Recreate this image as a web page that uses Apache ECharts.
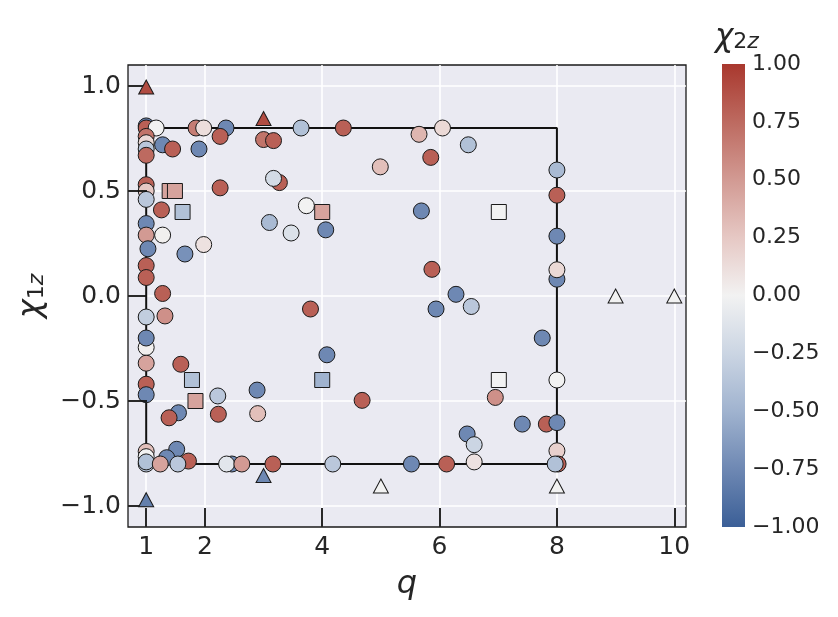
<!DOCTYPE html>
<html>
<head>
<meta charset="utf-8">
<script src="https://cdn.jsdelivr.net/npm/echarts@6.0.0/dist/echarts.min.js"></script>
<style>
  html, body { margin: 0; padding: 0; background: #fff; }
  #chart { width: 838px; height: 617px; }
</style>
</head>
<body>
<div id="chart"></div>
<script>
/* 刻度 */
var qTicks = [1, 2, 4, 6, 8, 10];
var chi1Ticks = [-1, -0.5, 0, 0.5, 1];
var chi2Ticks = [-1, -0.75, -0.5, -0.25, 0, 0.25, 0.5, 0.75, 1];

/* 方框 (q, chi1z) */
var boxQ = [1, 8, 8, 1, 1];
var boxChi1 = [-0.8, -0.8, 0.8, 0.8, -0.8];

/* 点: [q, chi1z, chi2z] */
var circles = [
  [1.0, 0.81, -0.8], [1.0, 0.80, 0.8], [1.17, 0.80, 0.0], [1.0, 0.76, 0.7],
  [1.0, 0.73, 0.15], [1.0, 0.70, -0.35], [1.0, 0.67, 0.75],
  [1.85, 0.80, 0.65], [1.98, 0.80, 0.12], [2.36, 0.80, -0.75], [2.26, 0.76, 0.8],
  [3.0, 0.745, 0.7], [3.17, 0.74, 0.8], [3.64, 0.80, -0.4], [4.36, 0.80, 0.8],
  [1.28, 0.72, -0.75], [1.45, 0.70, 0.8], [1.9, 0.70, -0.75],
  [5.65, 0.77, 0.35], [6.05, 0.80, 0.15], [6.49, 0.72, -0.4], [5.85, 0.66, 0.8],
  [4.99, 0.615, 0.3],
  [8.0, 0.60, -0.45], [8.0, 0.48, 0.8], [8.0, 0.285, -0.75], [8.0, 0.08, -0.75], [8.0, 0.125, 0.15],
  [1.0, 0.53, 0.8], [1.0, 0.50, 0.25], [1.0, 0.46, -0.35],
  [2.26, 0.515, 0.8], [3.27, 0.54, 0.8], [3.17, 0.56, -0.2],
  [1.26, 0.41, 0.8], [3.73, 0.43, 0.0], [4.06, 0.315, -0.75], [3.1, 0.35, -0.45], [3.47, 0.30, -0.15],
  [1.0, 0.345, -0.75], [1.0, 0.29, 0.5], [1.03, 0.225, -0.75],
  [1.28, 0.29, 0.02], [1.66, 0.20, -0.7], [1.98, 0.245, 0.1],
  [1.0, 0.145, 0.8], [1.0, 0.088, 0.8], [1.28, 0.012, 0.8], [1.32, -0.095, 0.55],
  [3.8, -0.062, 0.8],
  [5.69, 0.405, -0.75], [5.87, 0.127, 0.8], [6.28, 0.008, -0.75], [6.54, -0.05, -0.35], [5.94, -0.062, -0.75],
  [1.0, -0.10, -0.3], [1.0, -0.245, 0.02], [1.0, -0.20, -0.75], [1.0, -0.32, 0.45],
  [1.0, -0.42, 0.8], [1.0, -0.47, -0.75],
  [1.59, -0.325, 0.8], [2.22, -0.476, -0.35], [2.89, -0.448, -0.75],
  [2.23, -0.563, 0.8], [2.90, -0.56, 0.3], [1.55, -0.556, -0.75], [1.39, -0.58, 0.8],
  [4.08, -0.28, -0.75], [4.68, -0.497, 0.8],
  [1.0, -0.74, 0.3], [1.0, -0.765, 0.0], [1.0, -0.80, -0.35], [1.0, -0.79, -0.4],
  [1.52, -0.73, -0.75], [1.35, -0.77, -0.75], [1.72, -0.786, 0.8], [1.24, -0.80, 0.45], [1.54, -0.80, -0.35],
  [2.46, -0.80, -0.75], [2.37, -0.80, -0.1], [2.63, -0.80, 0.5], [3.16, -0.80, 0.8],
  [4.18, -0.80, -0.35], [5.52, -0.80, -0.75], [6.12, -0.80, 0.8], [6.59, -0.79, 0.1],
  [6.47, -0.657, -0.75], [6.59, -0.708, -0.25],
  [7.75, -0.20, -0.75], [8.0, -0.40, 0.0], [6.95, -0.483, 0.55],
  [7.41, -0.61, -0.75], [7.82, -0.61, 0.8], [8.0, -0.603, -0.75], [8.0, -0.737, 0.2],
  [8.02, -0.80, 0.8], [7.97, -0.80, -0.4]
];
var squares = [
  [1.40, 0.5, 0.45], [1.49, 0.5, 0.45], [1.62, 0.40, -0.4], [4.0, 0.40, 0.45], [7.01, 0.40, 0.0],
  [1.78, -0.40, -0.4], [1.84, -0.50, 0.45], [4.0, -0.40, -0.5], [7.01, -0.40, 0.0]
];
var triangles = [
  [1.0, 0.995, 0.9], [3.0, 0.845, 0.9], [1.0, -0.97, -0.8], [3.0, -0.855, -0.75],
  [5.0, -0.905, 0.0], [8.0, -0.905, 0.0], [9.0, 0.0, 0.0], [10.0, 0.0, 0.0]
];

/* 颜色 -1 -> 1 */
var cmapColors = ['#3b5f97', '#6e88b3', '#a0b3cf', '#cbd5e3', '#f2f2f2', '#e6c8c4', '#d29a93', '#bd6a60', '#a9382e'];

var FONT = 'DejaVu Sans';
var TXT = '#262626';

function fmt(v, d) {
  var s = Math.abs(v).toFixed(d);
  return v < 0 ? '\u2212' + s : s;
}

var boxData = boxQ.map(function (q, i) { return [q, boxChi1[i]]; });

var gradStops = cmapColors.map(function (c, i) {
  return { offset: 1 - i / (cmapColors.length - 1), color: c };
});

var myEchart = echarts.init(document.getElementById('chart'));

var markerStyle = { borderColor: '#1a1a1a', borderWidth: 1, opacity: 1 };
var tickStyle = { color: '#111', width: 1.8 };
var gridLine = { show: true, lineStyle: { color: '#ffffff', width: 1.6 } };

var option = {
  animation: false,
  title: {
    text: '{c|χ}{n|2}{s|z}',
    left: 710,
    top: 10,
    textStyle: {
      fontWeight: 'normal',
      rich: {
        c: { fontFamily: FONT, fontSize: 31, fontStyle: 'italic', fontWeight: 'normal', color: TXT, lineHeight: 38, verticalAlign: 'bottom' },
        n: { fontFamily: FONT, fontSize: 22, fontWeight: 'normal', color: TXT, lineHeight: 30, verticalAlign: 'bottom' },
        s: { fontFamily: FONT, fontSize: 22, fontStyle: 'italic', fontWeight: 'normal', color: TXT, lineHeight: 30, verticalAlign: 'bottom' }
      }
    }
  },
  grid: [
    { left: 128, top: 65, width: 558, height: 462, show: true, backgroundColor: '#eaeaf2',
      borderColor: '#1a1a1a', borderWidth: 1.3, outerBoundsMode: 'none' },
    { left: 722, top: 64, width: 23, height: 463, show: false, outerBoundsMode: 'none' }
  ],
  visualMap: {
    type: 'continuous',
    show: false,
    min: -1,
    max: 1,
    dimension: 2,
    seriesIndex: [1, 2, 3],
    inRange: { color: cmapColors }
  },
  xAxis: [
    {
      gridIndex: 0, type: 'value', min: 0.69, max: 10.2, z: 5,
      name: 'q', nameLocation: 'middle', nameGap: 42,
      nameTextStyle: { fontFamily: FONT, fontSize: 32, fontStyle: 'italic', color: TXT },
      axisLine: { show: false, onZero: false },
      axisTick: { show: true, inside: true, length: 19, customValues: qTicks, lineStyle: tickStyle },
      axisLabel: { customValues: qTicks, fontFamily: FONT, fontSize: 25, color: TXT, margin: 8 },
      splitLine: { show: false }
    },
    { gridIndex: 1, type: 'value', min: 0, max: 1, show: false },
    /* 只画网格线 */
    {
      gridIndex: 0, type: 'value', min: 0.69, max: 10.2, z: 0,
      axisLine: { show: false, onZero: false },
      axisTick: { show: false, customValues: qTicks },
      axisLabel: { show: false, customValues: qTicks },
      splitLine: gridLine
    }
  ],
  yAxis: [
    {
      gridIndex: 0, type: 'value', min: -1.1, max: 1.1, z: 5,
      name: '{c|χ}{n|1}{s|z}', nameLocation: 'middle', nameGap: 80,
      nameTextStyle: {
        rich: {
          c: { fontFamily: FONT, fontSize: 32, fontStyle: 'italic', color: TXT, lineHeight: 38, verticalAlign: 'bottom' },
          n: { fontFamily: FONT, fontSize: 22, color: TXT, lineHeight: 29, verticalAlign: 'bottom' },
          s: { fontFamily: FONT, fontSize: 22, fontStyle: 'italic', color: TXT, lineHeight: 29, verticalAlign: 'bottom' }
        }
      },
      axisLine: { show: false, onZero: false },
      axisTick: { show: true, inside: true, length: 19, customValues: chi1Ticks, lineStyle: tickStyle },
      axisLabel: {
        customValues: chi1Ticks, fontFamily: FONT, fontSize: 25, color: TXT, margin: 7,
        formatter: function (v) { return fmt(v, 1); }
      },
      splitLine: { show: false }
    },
    {
      gridIndex: 1, type: 'value', min: -1, max: 1, position: 'right',
      axisLine: { show: false, onZero: false },
      axisTick: { show: false },
      splitLine: { show: false },
      axisLabel: {
        customValues: chi2Ticks, fontFamily: FONT, fontSize: 22, color: TXT, margin: 7,
        formatter: function (v) { return fmt(v, 2); }
      }
    },
    /* 只画网格线 */
    {
      gridIndex: 0, type: 'value', min: -1.1, max: 1.1, z: 0,
      axisLine: { show: false, onZero: false },
      axisTick: { show: false, customValues: chi1Ticks },
      axisLabel: { show: false, customValues: chi1Ticks },
      splitLine: gridLine
    }
  ],
  series: [
    {
      type: 'line', xAxisIndex: 0, yAxisIndex: 0, data: boxData,
      symbol: 'none', silent: true, z: 1,
      lineStyle: { color: '#111', width: 2 }
    },
    {
      type: 'scatter', xAxisIndex: 0, yAxisIndex: 0, data: circles,
      symbol: 'circle', symbolSize: 16, itemStyle: markerStyle, z: 3
    },
    {
      type: 'scatter', xAxisIndex: 0, yAxisIndex: 0, data: squares,
      symbol: 'rect', symbolSize: 15, itemStyle: markerStyle, z: 4
    },
    {
      type: 'scatter', xAxisIndex: 0, yAxisIndex: 0, data: triangles,
      symbol: 'triangle', symbolSize: [15, 14], itemStyle: markerStyle, z: 5
    },
    {
      /* 色条 */
      type: 'custom', xAxisIndex: 1, yAxisIndex: 1, silent: true,
      data: [[0, -1, 1, 1]],
      renderItem: function (params, api) {
        var p0 = api.coord([api.value(0), api.value(3)]);
        var p1 = api.coord([api.value(2), api.value(1)]);
        return {
          type: 'rect',
          shape: { x: p0[0], y: p0[1], width: p1[0] - p0[0], height: p1[1] - p0[1] },
          style: { fill: new echarts.graphic.LinearGradient(0, 0, 0, 1, gradStops) }
        };
      }
    }
  ]
};
myEchart.setOption(option);
</script>
</body>
</html>
